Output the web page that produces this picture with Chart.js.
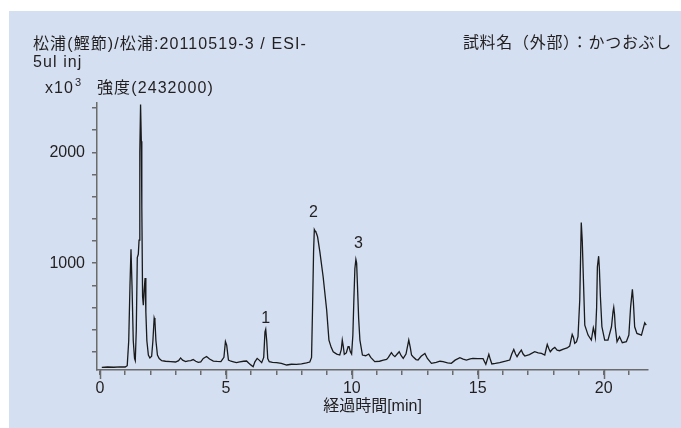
<!DOCTYPE html>
<html>
<head>
<meta charset="utf-8">
<script src="https://cdn.jsdelivr.net/npm/chart.js@4/dist/chart.umd.min.js"></script>
<style>
  html, body { margin: 0; padding: 0; background: #ffffff; }
  #wrap { position: relative; width: 681px; height: 428px; }
  canvas { display: block; }
</style>
</head>
<body>
<div id="wrap"><canvas id="c" width="681" height="428"></canvas></div>
<script>
// ---- Data (retention time [min], intensity [x10^3]) ----
const times = [
  0.07, 0.3, 0.55, 0.8, 1.0, 1.08, 1.14, 1.19, 1.23, 1.27, 1.32, 1.37, 1.40, 1.44, 1.48, 1.52, 1.55, 1.58, 1.61, 1.64,
  1.66, 1.69, 1.72, 1.75, 1.79, 1.82, 1.86, 1.92, 1.98, 2.05, 2.10, 2.15, 2.18, 2.22, 2.28, 2.35, 2.45, 2.6, 2.8, 3.0,
  3.12, 3.2, 3.28, 3.4, 3.5, 3.6, 3.7, 3.8, 3.9, 4.0, 4.1, 4.23, 4.35, 4.5, 4.65, 4.8, 4.92, 4.98, 5.03, 5.1,
  5.2, 5.3, 5.42, 5.55, 5.7, 5.82, 5.9, 6.0, 6.08, 6.15, 6.24, 6.32, 6.42, 6.5, 6.55, 6.58, 6.62, 6.66, 6.72, 6.85,
  7.01, 7.2, 7.41, 7.6, 7.8, 8.0, 8.2, 8.33, 8.4, 8.44, 8.48, 8.51, 8.54, 8.57, 8.60, 8.64, 8.73, 8.86, 9.0, 9.09,
  9.18, 9.26, 9.4, 9.52, 9.58, 9.62, 9.66, 9.70, 9.78, 9.85, 9.89, 9.94, 9.99, 10.04, 10.08, 10.12, 10.16, 10.19, 10.22, 10.27,
  10.32, 10.42, 10.55, 10.67, 10.75, 10.91, 11.1, 11.25, 11.38, 11.45, 11.57, 11.64, 11.71, 11.8, 11.88, 11.96, 12.04, 12.15, 12.26, 12.32,
  12.37, 12.43, 12.55, 12.63, 12.75, 12.9, 13.0, 13.16, 13.35, 13.5, 13.62, 13.8, 13.95, 14.1, 14.29, 14.42, 14.55, 14.7, 14.81, 15.0,
  15.21, 15.32, 15.44, 15.5, 15.56, 15.7, 15.87, 16.1, 16.27, 16.35, 16.43, 16.5, 16.56, 16.65, 16.73, 16.8, 16.87, 17.05, 17.26, 17.4,
  17.53, 17.66, 17.72, 17.76, 17.82, 17.88, 17.97, 18.06, 18.15, 18.25, 18.4, 18.55, 18.65, 18.75, 18.8, 18.85, 18.92, 18.98, 19.05, 19.11,
  19.15, 19.18, 19.25, 19.38, 19.51, 19.59, 19.63, 19.67, 19.72, 19.75, 19.8, 19.83, 19.87, 19.93, 20.04, 20.17, 20.31, 20.37, 20.4, 20.43,
  20.46, 20.53, 20.63, 20.74, 20.9, 21.0, 21.07, 21.14, 21.18, 21.23, 21.32, 21.5, 21.63, 21.69
];
const intensity = [
  60, 63, 61, 64, 63, 75, 300, 800, 1126, 800, 300, 140, 120, 400, 1050, 1080, 1207, 2000, 2432, 2100,
  1500, 700, 620, 750, 865, 560, 300, 170, 144, 160, 300, 505, 480, 300, 170, 140, 120, 115, 111, 108,
  120, 145, 125, 112, 118, 120, 130, 115, 105, 110, 140, 158, 135, 117, 113, 111, 150, 293, 260, 126,
  115, 110, 102, 110, 115, 117, 100, 80, 66, 110, 141, 125, 102, 150, 380, 403, 300, 140, 111, 105,
  102, 95, 81, 88, 87, 92, 100, 108, 150, 600, 1100, 1303, 1290, 1282, 1265, 1237, 1102, 877, 577, 306,
  240, 201, 180, 171, 220, 306, 250, 177, 190, 246, 246, 200, 180, 350, 667, 950, 1033, 1000, 817, 500,
  306, 171, 165, 180, 150, 111, 115, 125, 132, 150, 192, 170, 156, 180, 201, 165, 141, 180, 306, 240,
  171, 156, 130, 126, 160, 186, 140, 96, 105, 115, 111, 100, 96, 125, 147, 135, 126, 136, 141, 138,
  138, 87, 177, 130, 90, 95, 102, 115, 126, 180, 222, 180, 156, 190, 216, 180, 162, 175, 201, 190,
  186, 171, 230, 267, 230, 201, 225, 240, 215, 210, 225, 235, 252, 357, 330, 276, 290, 336, 667, 1366,
  1200, 967, 441, 351, 306, 417, 380, 330, 600, 967, 1063, 950, 696, 426, 306, 306, 426, 560, 601, 540,
  426, 291, 336, 282, 291, 351, 606, 763, 650, 426, 366, 351, 462, 441
];
const xTickValues = [0, 1, 2, 3, 4, 5, 6, 7, 8, 9, 10, 11, 12, 13, 14, 15, 16, 17, 18, 19, 20, 21];
const xTickLabels = [0, 5, 10, 15, 20];
const yTickValues = [200, 400, 600, 800, 1000, 1200, 1400, 1600, 1800, 2000, 2200, 2400];
const yTickLabels = [1000, 2000];
const peakLabels = ['1', '2', '3'];
const peakTimes = [6.58, 8.51, 10.16];
const peakValues = [403, 1303, 1033];

const titleLeft1 = '松浦(鰹節)/松浦:20110519-3 / ESI-';
const titleLeft2 = '5ul inj';
const unitText = 'x10';
const unitExp = '3';
const intensityText = '強度(2432000)';
const titleRight = '試料名（外部）：かつおぶし';
const xTitle = '経過時間[min]';

const FONT = '"Liberation Sans", "Noto Sans CJK JP", sans-serif';
const INK = '#231f20';
const AXIS = '#6b6b6b';

const points = times.map((t, i) => ({ x: t, y: intensity[i] }));

const decor = {
  id: 'decor',
  beforeDraw(chart) {
    const ctx = chart.ctx;
    ctx.save();
    ctx.fillStyle = '#ffffff';
    ctx.fillRect(0, 0, chart.width, chart.height);
    ctx.fillStyle = '#d4e0f1';
    ctx.fillRect(9, 11, chart.width - 9, chart.height - 11);
    ctx.restore();
  },
  afterDraw(chart) {
    const ctx = chart.ctx;
    const xs = chart.scales.x, ys = chart.scales.y;
    ctx.save();
    // longer major ticks on x axis
    ctx.strokeStyle = AXIS;
    ctx.lineWidth = 1.5;
    xTickLabels.forEach(v => {
      const px = Math.round(xs.getPixelForValue(v)) + 0.5;
      ctx.beginPath();
      ctx.moveTo(px, ys.bottom);
      ctx.lineTo(px, ys.bottom + 9);
      ctx.stroke();
    });
    ctx.fillStyle = INK;
    ctx.textBaseline = 'alphabetic';
    ctx.textAlign = 'left';
    ctx.font = '16px ' + FONT;
    ctx.letterSpacing = '1.1px';
    ctx.fillText(titleLeft1, 33, 49);
    ctx.fillText(titleLeft2, 33, 67);
    ctx.fillText(unitText, 45, 93);
    ctx.fillText(intensityText, 97, 93);
    ctx.letterSpacing = '0px';
    ctx.font = '11px ' + FONT;
    ctx.fillText(unitExp, 75, 86);
    ctx.font = '16px ' + FONT;
    ctx.letterSpacing = '0.7px';
    ctx.textAlign = 'right';
    ctx.fillText(titleRight, 672, 48);
    ctx.letterSpacing = '0px';
    // peak labels
    ctx.textAlign = 'center';
    const offs = [[0, 6], [-1, 13], [2.5, 11]];
    peakLabels.forEach((lab, i) => {
      const px = xs.getPixelForValue(peakTimes[i]) + offs[i][0];
      const py = ys.getPixelForValue(peakValues[i]) - offs[i][1];
      ctx.fillText(lab, px, py);
    });
    ctx.restore();
  }
};

new Chart(document.getElementById('c'), {
  type: 'line',
  data: {
    datasets: [{
      data: points,
      borderColor: '#1a1a1a',
      borderWidth: 1.3,
      pointRadius: 0,
      tension: 0,
      fill: false
    }]
  },
  options: {
    responsive: false,
    animation: false,
    devicePixelRatio: 1,
    layout: { padding: { left: 37, top: 103, right: 33, bottom: 12 } },
    plugins: { legend: { display: false }, tooltip: { enabled: false } },
    scales: {
      x: {
        type: 'linear',
        min: -0.12,
        max: 21.76,
        afterBuildTicks(s) { s.ticks = xTickValues.map(v => ({ value: v })); },
        afterFit(s) { s.height = 46; },
        border: { display: true, color: AXIS, width: 1.5 },
        grid: { drawOnChartArea: false, drawTicks: true, tickLength: 5, color: AXIS, lineWidth: 1.5 },
        ticks: {
          autoSkip: false,
          maxRotation: 0,
          padding: 4,
          color: INK,
          font: { family: FONT, size: 16 },
          callback: v => xTickLabels.includes(v) ? String(v) : ''
        },
        title: {
          display: true,
          text: xTitle,
          color: INK,
          padding: { top: -6, bottom: 0 },
          font: { family: FONT, size: 16 }
        }
      },
      y: {
        type: 'linear',
        min: 36,
        max: 2445,
        afterBuildTicks(s) { s.ticks = yTickValues.map(v => ({ value: v })); },
        afterFit(s) { s.width = 60; },
        border: { display: true, color: AXIS, width: 1.5 },
        grid: { drawOnChartArea: false, drawTicks: true, tickLength: 5, color: AXIS, lineWidth: 1.5 },
        ticks: {
          autoSkip: false,
          padding: 7,
          color: INK,
          font: { family: FONT, size: 16 },
          callback: v => yTickLabels.includes(v) ? String(v) : ''
        }
      }
    }
  },
  plugins: [decor]
});
</script>
</body>
</html>
